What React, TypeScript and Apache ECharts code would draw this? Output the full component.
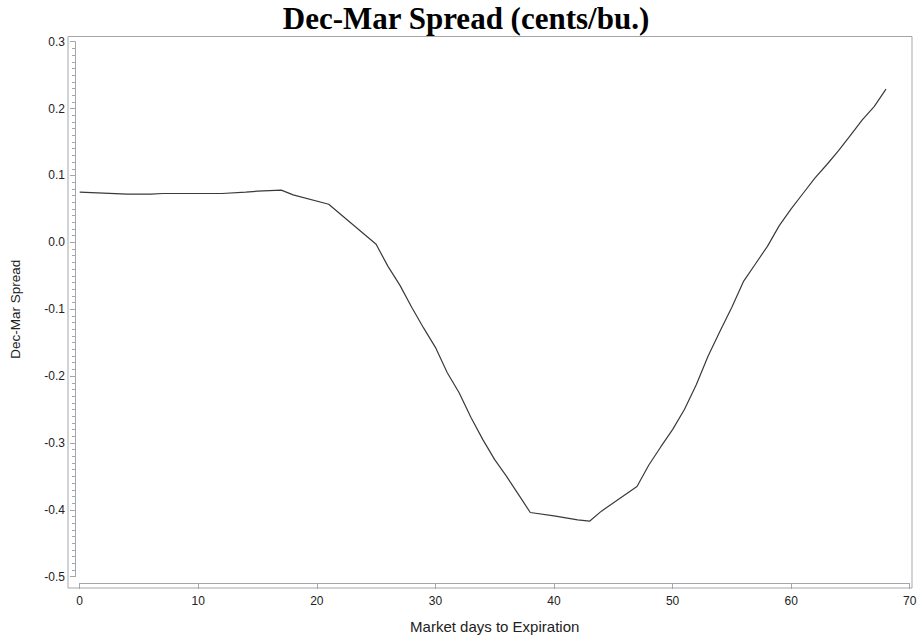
import React, { useEffect, useRef } from "react";
import * as echarts from "echarts";

const titleText = "Dec-Mar Spread (cents/bu.)";
const xAxisTitle = "Market days to Expiration";
const yAxisTitle = "Dec-Mar Spread";

const days = [0, 2, 4, 6, 7, 12, 14, 15, 17, 18, 21, 25, 26, 27, 28, 29, 30, 31, 32, 33, 34, 35, 36, 37, 38, 40, 42, 43, 44, 47, 48, 49, 50, 51, 52, 53, 54, 55, 56, 57, 58, 59, 60, 61, 62, 63, 64, 65, 66, 67, 68];
const spread = [0.075, 0.0735, 0.072, 0.072, 0.073, 0.073, 0.075, 0.0765, 0.078, 0.071, 0.057, -0.003, -0.036, -0.064, -0.097, -0.128, -0.157, -0.195, -0.225, -0.262, -0.295, -0.325, -0.35, -0.377, -0.404, -0.409, -0.415, -0.417, -0.402, -0.365, -0.333, -0.306, -0.28, -0.25, -0.213, -0.17, -0.133, -0.097, -0.058, -0.032, -0.006, 0.025, 0.05, 0.073, 0.096, 0.116, 0.137, 0.16, 0.183, 0.203, 0.229];

const xTicks = { min: 0, max: 70, interval: 10 };
const yTicks = { min: -0.5, max: 0.3, interval: 0.1 };

export default function App() {
  const ref = useRef<HTMLDivElement>(null);
  useEffect(() => {
    document.body.style.margin = "0";
    const chart = echarts.init(ref.current!, null, { renderer: "svg" });
    const axisGrey = "#a3a7ab";
    const labelColor = "#222222";
    chart.setOption({
      animation: false,
      backgroundColor: "#ffffff",
      title: {
        text: titleText,
        left: 461,
        textAlign: "center",
        top: -2,
        textStyle: {
          fontFamily: "Liberation Serif",
          fontWeight: "bold",
          fontSize: 31,
          color: "#000000",
        },
      },
      grid: { left: 72.7, right: 10.3, top: 41.7, bottom: 57.3 },
      graphic: [
        {
          type: "rect",
          shape: { x: 68, y: 36.5, width: 844, height: 551.5 },
          style: { fill: "none", stroke: axisGrey, lineWidth: 1 },
          silent: true,
        },
      ],
      xAxis: {
        type: "value",
        min: xTicks.min,
        max: xTicks.max,
        interval: xTicks.interval,
        offset: 6.3,
        name: xAxisTitle,
        nameLocation: "middle",
        nameGap: 36,
        nameTextStyle: { fontFamily: "Liberation Sans", fontSize: 15, color: labelColor },
        axisLine: { show: true, onZero: false, lineStyle: { color: axisGrey, width: 1 } },
        axisTick: { show: true, length: 6, lineStyle: { color: axisGrey } },
        axisLabel: { fontFamily: "Liberation Sans", fontSize: 12, color: labelColor, margin: 12 },
        splitLine: { show: false },
      },
      yAxis: {
        type: "value",
        min: yTicks.min,
        max: yTicks.max,
        interval: yTicks.interval,
        offset: 4.7,
        name: yAxisTitle,
        nameLocation: "middle",
        nameGap: 53,
        nameRotate: 90,
        nameTextStyle: { fontFamily: "Liberation Sans", fontSize: 13.5, color: labelColor },
        axisLine: { show: true, onZero: false, lineStyle: { color: axisGrey, width: 1 } },
        axisTick: { show: true, length: 5, lineStyle: { color: axisGrey } },
        minorTick: { show: true, splitNumber: 10, length: 3, lineStyle: { color: axisGrey } },
        axisLabel: {
          fontFamily: "Liberation Sans",
          fontSize: 12,
          color: labelColor,
          margin: 10,
          formatter: (v: number) => v.toFixed(1),
        },
        splitLine: { show: false },
      },
      series: [
        {
          type: "line",
          data: days.map((d, i) => [d, spread[i]]),
          showSymbol: false,
          symbol: "none",
          lineStyle: { color: "#3a3a3a", width: 1.2 },
        },
      ],
    });
    return () => chart.dispose();
  }, []);
  return <div ref={ref} style={{ width: 920, height: 639 }} />;
}
